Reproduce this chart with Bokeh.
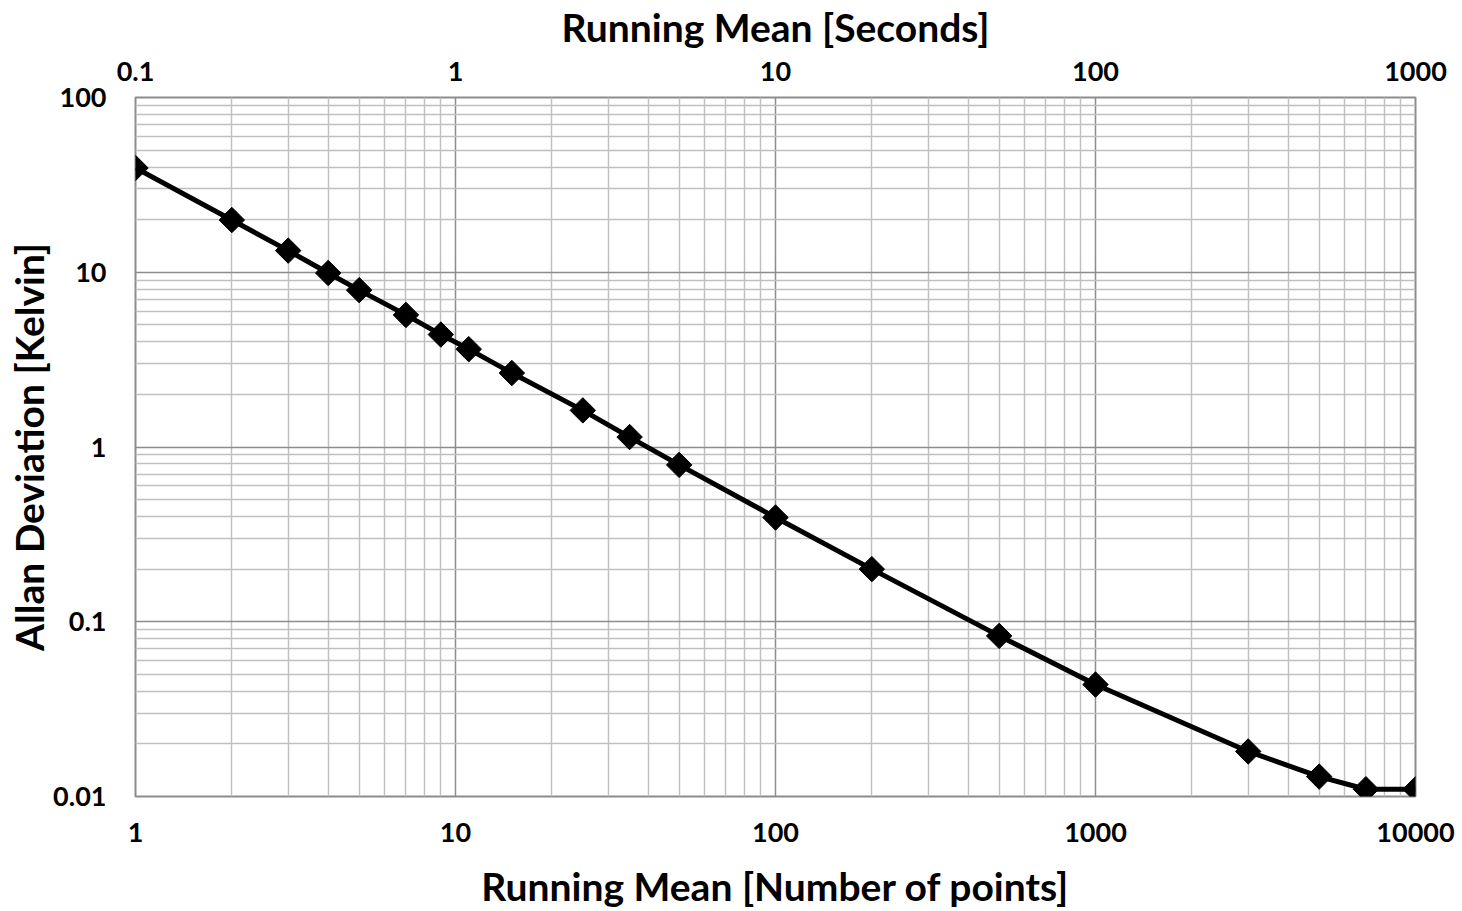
import numpy as np
from bokeh.plotting import figure
from bokeh.models import LogAxis, Range1d, FixedTicker, ColumnDataSource
from bokeh.embed import file_html
from bokeh.resources import INLINE

# data
points = [1, 2, 3, 4, 5, 7, 9, 11, 15, 25, 35, 50, 100, 200, 500, 1000, 3000, 5000, 7000, 10000]
allan_dev = [39.5, 19.9, 13.3, 9.9, 7.9, 5.7, 4.4, 3.63, 2.65, 1.62, 1.14, 0.79, 0.395, 0.2,
             0.083, 0.0437, 0.0181, 0.013, 0.011, 0.011]
x_ticks = [1, 10, 100, 1000, 10000]
y_ticks = [0.01, 0.1, 1, 10, 100]
sec_ticks = [0.1, 1, 10, 100, 1000]
x_labels = ["1", "10", "100", "1000", "10000"]
y_labels = ["0.01", "0.1", "1", "10", "100"]
sec_labels = ["0.1", "1", "10", "100", "1000"]

FONT = "Lato"

def minors(decades):
    out = []
    for d in decades:
        for m in range(2, 10):
            out.append(m * d)
    return out

p = figure(frame_width=1280, frame_height=699, x_axis_type="log", y_axis_type="log",
           x_range=Range1d(1, 10000), y_range=Range1d(0.01, 100),
           output_backend="svg", toolbar_location=None,
           min_border_left=135, min_border_right=47, min_border_top=96, min_border_bottom=116,
           x_axis_label="Running Mean [Number of points]",
           y_axis_label="Allan Deviation [Kelvin]")
p.outline_line_color = "#8c8c8c"
p.outline_line_width = 2

p.extra_x_ranges = {"sec": Range1d(0.09995, 1000.05)}
top = LogAxis(x_range_name="sec", axis_label="Running Mean [Seconds]")
top.ticker = FixedTicker(ticks=sec_ticks)
top.major_label_overrides = {t: l for t, l in zip(sec_ticks, sec_labels)}
p.add_layout(top, "above")

xa = p.below[0]
ya = p.left[0]
xa.ticker = FixedTicker(ticks=x_ticks, minor_ticks=minors([1, 10, 100, 1000]))
ya.ticker = FixedTicker(ticks=y_ticks, minor_ticks=minors([0.01, 0.1, 1, 10]))
xa.major_label_overrides = {t: l for t, l in zip(x_ticks, x_labels)}
ya.major_label_overrides = {t: l for t, l in zip(y_ticks, y_labels)}

for ax in [xa, ya, top]:
    ax.axis_line_color = None
    ax.major_tick_line_color = None
    ax.minor_tick_line_color = None
    ax.major_tick_out = 0
    ax.major_tick_in = 0
    ax.minor_tick_out = 0
    ax.minor_tick_in = 0
    ax.major_label_text_font = FONT
    ax.major_label_text_font_style = "bold"
    ax.major_label_text_font_size = "27px"
    ax.major_label_text_color = "black"
    ax.axis_label_text_font = FONT
    ax.axis_label_text_font_style = "bold"
    ax.axis_label_text_font_size = "39px"
    ax.axis_label_text_color = "black"

xa.major_label_standoff = 26
xa.axis_label_standoff = 18
ya.major_label_standoff = 29
ya.axis_label_standoff = -2
top.major_label_standoff = 17
top.axis_label_standoff = 9

for g in [p.xgrid[0], p.ygrid[0]]:
    g.grid_line_color = "#8c8c8c"
    g.grid_line_width = 1.5
    g.grid_line_alpha = 1
    g.minor_grid_line_color = "#c0c0c0"
    g.minor_grid_line_width = 1.5

src = ColumnDataSource(dict(x=points, y=allan_dev))
p.line("x", "y", source=src, line_color="black", line_width=5)
p.scatter("x", "y", source=src, marker="square", size=18, angle=np.pi / 4,
          fill_color="black", line_color="black")

open("out.html", "w").write(file_html(p, INLINE))
